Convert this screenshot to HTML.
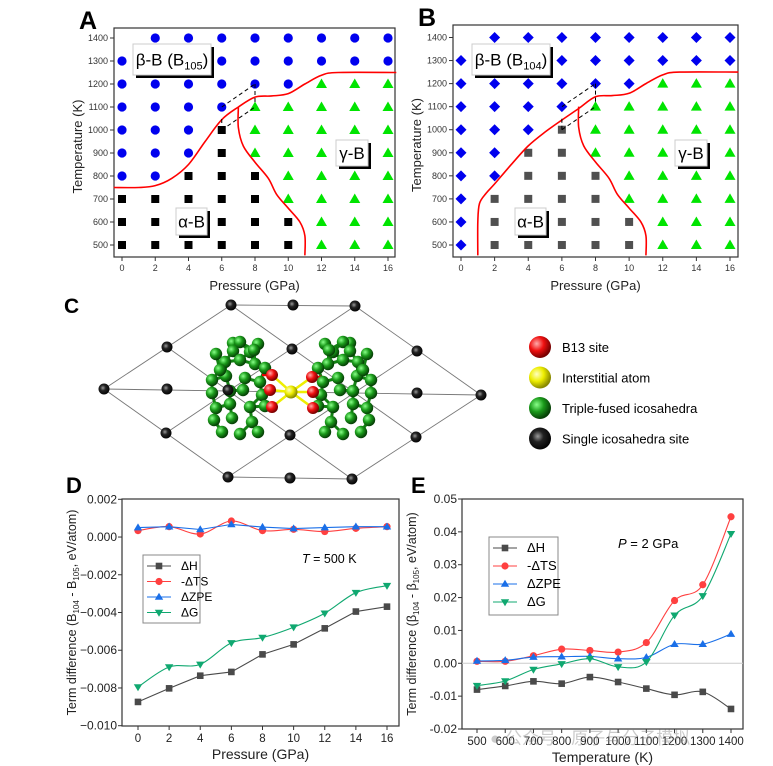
<!DOCTYPE html>
<html><head><meta charset="utf-8"><style>
body{margin:0;background:#fff;}
svg{display:block;font-family:"Liberation Sans","Noto Sans CJK SC",sans-serif;}
</style></head><body>
<svg id="s" width="773" height="766" viewBox="0 0 773 766" xmlns="http://www.w3.org/2000/svg">
<defs>
<radialGradient id="gG" cx="35%" cy="35%" r="65%"><stop offset="0" stop-color="#8f8"/><stop offset="0.5" stop-color="#1a9a1a"/><stop offset="1" stop-color="#064006"/></radialGradient>
<radialGradient id="gR" cx="35%" cy="35%" r="65%"><stop offset="0" stop-color="#faa"/><stop offset="0.5" stop-color="#f01010"/><stop offset="1" stop-color="#700"/></radialGradient>
<radialGradient id="gY" cx="35%" cy="35%" r="65%"><stop offset="0" stop-color="#ffffc0"/><stop offset="0.5" stop-color="#ee0"/><stop offset="1" stop-color="#880"/></radialGradient>
<radialGradient id="gK" cx="40%" cy="40%" r="65%"><stop offset="0" stop-color="#999"/><stop offset="0.4" stop-color="#222"/><stop offset="1" stop-color="#000"/></radialGradient>
</defs>
</svg>
<script>
const S=document.getElementById('s');const NS='http://www.w3.org/2000/svg';
function el(t,a,p){const e=document.createElementNS(NS,t);for(const k in a)e.setAttribute(k,a[k]);(p||S).appendChild(e);return e;}
function tx(x,y,s,o){o=o||{};const e=el('text',{x:x,y:y,'font-size':o.fs||12,'text-anchor':o.a||'middle',fill:o.c||'#000','font-weight':o.w||'normal'});if(o.r)e.setAttribute('transform','rotate(-90 '+x+' '+y+')');e.innerHTML=s;return e;}
function cr(pts){let d='M'+pts[0][0]+','+pts[0][1];for(let i=0;i<pts.length-1;i++){const p0=pts[i-1]||pts[i],p1=pts[i],p2=pts[i+1],p3=pts[i+2]||p2;const c1=[p1[0]+(p2[0]-p0[0])/6,p1[1]+(p2[1]-p0[1])/6],c2=[p2[0]-(p3[0]-p1[0])/6,p2[1]-(p3[1]-p1[1])/6];d+=' C'+c1+' '+c2+' '+p2;}return d;}

// ===== Panels A & B data =====
const pressures=[0,2,4,6,8,10,12,14,16];
const temps=[500,600,700,800,900,1000,1100,1200,1300,1400];
const phaseA_alpha=[[0,500,700],[2,500,700],[4,500,800],[6,500,1000],[8,500,800],[10,500,600]];
const phaseA_beta=[[0,800,1300],[2,800,1400],[4,900,1400],[6,1100,1400],[8,1200,1400],[10,1200,1400],[12,1300,1400],[14,1300,1400],[16,1300,1400]];
const phaseA_gamma=[[8,900,1100],[10,700,1100],[12,500,1200],[14,500,1200],[16,500,1200]];
const phaseB_alpha=[[2,500,700],[4,500,900],[6,500,1000],[8,500,800],[10,500,600]];
const phaseB_beta=[[0,500,1300],[2,800,1400],[4,1000,1400],[6,1100,1400],[8,1200,1400],[10,1200,1400],[12,1300,1400],[14,1300,1400],[16,1300,1400]];
const phaseB_gamma=phaseA_gamma;
const boundA1=[[-0.5,750],[1,750],[2,758],[3,790],[4,850],[5,950],[6,1045],[7,1100],[8,1143],[9,1148],[10,1158],[11,1200],[12,1238],[13,1250],[16.5,1250]];
const boundB1=[[1,455],[1,600],[1.1,680],[1.5,725],[2,765],[3,850],[4,930],[5,990],[6,1042],[7,1092],[8,1143],[9,1148],[10,1158],[11,1200],[12,1238],[13,1250],[16.5,1250]];
const bound2=[[7,1100],[7,1010],[7.3,930],[8,860],[8.8,790],[9.3,720],[10,660],[10.7,600],[11,540],[11,455]];

function phasePanel(id,X0,X1,Y0,Y1,px0,px16,py500,py1400,al,be,ga,b1,sub,diam,grey){
  const g=el('g',{});
  const xs=p=>px0+(px16-px0)*p/16, ys=t=>py500+(py1400-py500)*(t-500)/900;
  el('rect',{x:X0,y:Y0,width:X1-X0,height:Y1-Y0,fill:'none',stroke:'#333','stroke-width':1.2},g);
  temps.forEach(t=>{el('line',{x1:X0-4,x2:X0,y1:ys(t),y2:ys(t),stroke:'#333'},g);const l=tx(X0-6,ys(t)+3,t,{fs:9,a:'end',c:'#333'});g.appendChild(l);});
  pressures.forEach(p=>{el('line',{x1:xs(p),x2:xs(p),y1:Y1,y2:Y1+4,stroke:'#333'},g);g.appendChild(tx(xs(p),Y1+14,p,{fs:9,c:'#333'}));});
  const xl=tx((X0+X1)/2,290,'Pressure (GPa)',{fs:13,c:'#222'});g.appendChild(xl);
  const yl=tx(X0-32,(Y0+Y1)/2+4,'Temperature (K)',{fs:13,r:1,c:'#222'});g.appendChild(yl);
  tx(X0-35,Y0+1,id,{fs:25,w:'bold',a:'start'});
  al.forEach(([p,a,b])=>{for(let t=a;t<=b;t+=100){const m=el('rect',{x:xs(p)-4,y:ys(t)-4,width:8,height:8,fill:grey?'#505050':'#000'},g);}});
  be.forEach(([p,a,b])=>{for(let t=a;t<=b;t+=100){let m;if(diam)m=el('path',{d:`M${xs(p)},${ys(t)-5.5}l5.5,5.5l-5.5,5.5l-5.5,-5.5z`,fill:'#0000ee'},g);else m=el('circle',{cx:xs(p),cy:ys(t),r:4.6,fill:'#0000ee'},g);}});
  ga.forEach(([p,a,b])=>{for(let t=a;t<=b;t+=100){const m=el('path',{d:`M${xs(p)},${ys(t)-5.5}l5.5,9.5h-11z`,fill:'#00e400'},g);}});
  const pb1=el('path',{d:cr(b1.map(q=>[xs(q[0]),ys(q[1])])),fill:'none',stroke:'#f00','stroke-width':1.6},g);
  const pb2=el('path',{d:cr(bound2.map(q=>[xs(q[0]),ys(q[1])])),fill:'none',stroke:'#f00','stroke-width':1.6},g);
  el('path',{d:`M${xs(6)},${ys(1000)}L${xs(8)},${ys(1100)}M${xs(6)},${ys(1100)}L${xs(8)},${ys(1200)}M${xs(6)},${ys(1000)}V${ys(1060)}M${xs(8)},${ys(1200)}V${ys(1120)}`,stroke:'#000','stroke-dasharray':'4,3',fill:'none'},g);
  function box(x,y,w,h,label,name){const bg=el('g',{},g);el('rect',{x:x+3,y:y+3,width:w,height:h,fill:'#000'},bg);el('rect',{x:x,y:y,width:w,height:h,fill:'#fff',stroke:'#ccc'},bg);const t=tx(x+w/2,y+h/2+6,label,{fs:17});bg.appendChild(t);}
  box(X0+19,44,78,31,'β-B (B<tspan font-size="11" dy="4">'+sub+'</tspan><tspan dy="-4">)</tspan>','beta-label');
  box(X0+62,208,31,27,'α-B','alpha-label');
  box(X0+222,140,32,26,'γ-B','gamma-label');
}
phasePanel('A',114,395,28,257,122,388,245,38,phaseA_alpha,phaseA_beta,phaseA_gamma,boundA1,'105',false,false);
phasePanel('B',453,738,25,257,461,730,245,37.5,phaseB_alpha,phaseB_beta,phaseB_gamma,boundB1,'104',true,true);

// ===== Panel C structure =====
(function(){
const g=el('g',{});
tx(64,313,'C',{fs:21,w:'bold',a:'start'});
const A=[104,389],B=[231,305],C=[355,306],D=[481,395],E=[352,479],F=[228,477];
const ls=[[A,B],[B,C],[C,D],[D,E],[E,F],[F,A],[A,D],[B,[417,437]],[C,[166,433]],[F,[417,351]],[E,[167,347]]];
ls.forEach(([p,q])=>el('line',{x1:p[0],y1:p[1],x2:q[0],y2:q[1],stroke:'#777','stroke-width':0.9},g));
const dark=[A,B,C,D,E,F,[167,347],[167,389],[166,433],[293,305],[292,349],[290,435],[290,478],[417,351],[417,393],[416,437]];
dark.forEach(p=>el('circle',{cx:p[0],cy:p[1],r:5.5,fill:'url(#gK)'},g));
const off=[[-7,-47],[0,-48],[18,-46],[-24,-36],[-7,-39],[10,-38],[-15,-28],[0,-30],[15,-26],[25,-22],[-28,-10],[-14,-14],[5,-12],[20,-8],[-28,3],[-10,1],[3,0],[22,5],[-24,18],[-10,14],[10,17],[25,16],[-26,30],[-8,28],[12,32],[-18,42],[0,44],[18,42],[-20,-20],[14,-40]];
const pts=[];off.forEach(o=>{pts.push([240+o[0],390+o[1]]);pts.push([343-o[0],390+o[1]]);});
for(let i=0;i<pts.length;i++)for(let j=i+1;j<pts.length;j++){const dx=pts[i][0]-pts[j][0],dy=pts[i][1]-pts[j][1];if(Math.hypot(dx,dy)<17)el('line',{x1:pts[i][0],y1:pts[i][1],x2:pts[j][0],y2:pts[j][1],stroke:'#128012','stroke-width':3},g);}
const red=[[272,375],[270,390],[272,407],[312,377],[313,392],[313,408]];
red.forEach(r=>{el('line',{x1:r[0],y1:r[1],x2:291,y2:392,stroke:'#ee0','stroke-width':2.5},g);el('line',{x1:r[0],y1:r[1],x2:r[0]<291?262:322,y2:r[1],stroke:'#e00','stroke-width':2.5},g);});
pts.forEach(p=>el('circle',{cx:p[0],cy:p[1],r:6.2,fill:'url(#gG)'},g));
red.forEach(p=>el('circle',{cx:p[0],cy:p[1],r:6,fill:'url(#gR)'},g));
el('circle',{cx:291,cy:392,r:6.5,fill:'url(#gY)'},g);
el('circle',{cx:228,cy:390,r:5.5,fill:'url(#gK)'},g);
const lg=[['url(#gR)','B13 site'],['url(#gY)','Interstitial atom'],['url(#gG)','Triple-fused icosahedra'],['url(#gK)','Single icosahedra site']];
lg.forEach((l,i)=>{const y=347+i*30.5;const lgi=el('g',{},g);el('circle',{cx:540,cy:y,r:11,fill:l[0]},lgi);lgi.appendChild(tx(562,y+5,l[1],{fs:13,a:'start'}));});
})();

// ===== Panel D data =====
const dP=[0,2,4,6,8,10,12,14,16];
const dH=[-0.00874,-0.00802,-0.00735,-0.00715,-0.00622,-0.00569,-0.00484,-0.00395,-0.00369];
const dTS=[0.00034,0.00055,0.00016,0.00085,0.00034,0.00041,0.00029,0.00046,0.00055];
const dZPE=[0.0005,0.00055,0.0004,0.00067,0.00053,0.00045,0.0005,0.00055,0.00055];
const dG=[-0.00795,-0.00689,-0.00675,-0.00561,-0.00533,-0.00478,-0.00404,-0.00295,-0.00258];
const dYVals=[0.002,0,-0.002,-0.004,-0.006,-0.008,-0.010];
const dYTicks=['0.002','0.000','−0.002','−0.004','−0.006','−0.008','−0.010'];
// ===== Panel E data =====
const eT=[500,600,700,800,900,1000,1100,1200,1300,1400];
const eH=[-0.008,-0.0069,-0.0055,-0.0062,-0.0042,-0.0057,-0.0077,-0.0096,-0.0087,-0.0139];
const eTS=[0.0006,0.0006,0.0023,0.0043,0.0039,0.0034,0.0063,0.0191,0.0239,0.0446];
const eZPE=[0.0007,0.0009,0.0019,0.002,0.0021,0.0014,0.0018,0.0058,0.0058,0.0089];
const eG=[-0.0068,-0.0054,-0.0019,-0.0002,0.0014,-0.0011,0.0004,0.0146,0.0205,0.0394];
const eYVals=[0.05,0.04,0.03,0.02,0.01,0,-0.01,-0.02];
const eYTicks=['0.05','0.04','0.03','0.02','0.01','0.00','-0.01','-0.02'];

function marker(g,type,x,y,c){let m;
 if(type==='sq')m=el('rect',{x:x-3.3,y:y-3.3,width:6.6,height:6.6,fill:c},g);
 else if(type==='ci')m=el('circle',{cx:x,cy:y,r:3.6,fill:c},g);
 else if(type==='tu')m=el('path',{d:`M${x},${y-4.2}l4.2,7h-8.4z`,fill:c},g);
 else m=el('path',{d:`M${x},${y+4.2}l4.2,-7h-8.4z`,fill:c},g);
 }
const seriesStyle=[['ΔH','#4a4a4a','sq'],['-ΔTS','#ff4040','ci'],['ΔZPE','#1a6fe8','tu'],['ΔG','#10a870','td']];

function linePanel(id,X0,X1,Y0,Y1,xs,ys,xvals,series,smooth,yticks,yvals,xlabel,ylabel,note,leg,zero,lfs){
 const g=el('g',{});
 el('rect',{x:X0,y:Y0,width:X1-X0,height:Y1-Y0,fill:'none',stroke:'#333','stroke-width':1.2},g);
 if(zero)el('line',{x1:X0,x2:X1,y1:ys(0),y2:ys(0),stroke:'#ccc'},g);
 yvals.forEach((v,i)=>{el('line',{x1:X0-4,x2:X0,y1:ys(v),y2:ys(v),stroke:'#333'},g);g.appendChild(tx(X0-5,ys(v)+4,yticks[i],{fs:12,a:'end',c:'#222'}));});
 xvals.forEach(v=>{el('line',{x1:xs(v),x2:xs(v),y1:Y1,y2:Y1+4,stroke:'#333'},g);g.appendChild(tx(xs(v),Y1+16,v,{fs:11.5,c:'#222'}));});
 const xl=tx((X0+X1)/2,Y1+33,xlabel,{fs:14,c:'#222'});g.appendChild(xl);
 const yl=tx(X0-46,(Y0+Y1)/2,ylabel,{fs:12.5,r:1,c:'#222'});g.appendChild(yl);
 series.forEach((s,k)=>{const pts=s.map((v,i)=>[xs(xvals[i]),ys(v)]);
  const p=el('path',{d:smooth[k]?cr(pts):'M'+pts.join('L'),fill:'none',stroke:seriesStyle[k][1],'stroke-width':1.1},g);
  pts.forEach(q=>marker(g,seriesStyle[k][2],q[0],q[1],seriesStyle[k][1]));});
 const lg=el('g',{},g);
 el('rect',{x:leg[0],y:leg[1],width:leg[2],height:leg[3],fill:'#fff',stroke:'#888'},lg);
 seriesStyle.forEach((s,i)=>{const y=leg[1]+11+i*(leg[3]-6)/4;const e=el('g',{},lg);el('line',{x1:leg[0]+4,x2:leg[0]+28,y1:y,y2:y,stroke:s[1]},e);marker(e,s[2],leg[0]+16,y,s[1]);e.appendChild(tx(leg[0]+38,y+4,s[0],{fs:lfs,a:'start'}));});
 g.appendChild(note);
}
const dx=v=>138+(387-138)*v/16, dy=v=>499.3+(0.002-v)/0.012*(725.7-499.3);
linePanel('D',122,399,499,726,dx,dy,dP,[dH,dTS,dZPE,dG],[false,true,false,true],dYTicks,dYVals,'Pressure (GPa)',
 'Term difference (B<tspan font-size="8" dy="3">104</tspan><tspan dy="-3"> - B</tspan><tspan font-size="8" dy="3">105</tspan><tspan dy="-3">, eV/atom)</tspan>',
 (()=>{const t=tx(302,563,'<tspan font-style="italic">T</tspan> = 500 K',{fs:12.5,a:'start'});return t;})(),[143,555,57,68],false,12);
tx(66,493,'D',{fs:22,w:'bold',a:'start'});
const ex=v=>477+(731-477)*(v-500)/900, ey=v=>499+(0.05-v)/0.07*(729-499);
linePanel('E',462,743,499,729,ex,ey,eT,[eH,eTS,eZPE,eG],[true,true,true,true],eYTicks,eYVals,'Temperature (K)',
 'Term difference (β<tspan font-size="8" dy="3">104</tspan><tspan dy="-3"> - β</tspan><tspan font-size="8" dy="3">105</tspan><tspan dy="-3">, eV/atom)</tspan>',
 (()=>{const t=tx(618,548,'<tspan font-style="italic">P</tspan> = 2 GPa',{fs:13,a:'start'});return t;})(),[489,537,69,78],true,13);
tx(411,493,'E',{fs:22,w:'bold',a:'start'});
const wm=tx(490,744,'● 公众号 · 原子与分子模拟',{fs:17,a:'start',c:'rgba(140,140,140,0.45)'});

</script>
</body></html>
